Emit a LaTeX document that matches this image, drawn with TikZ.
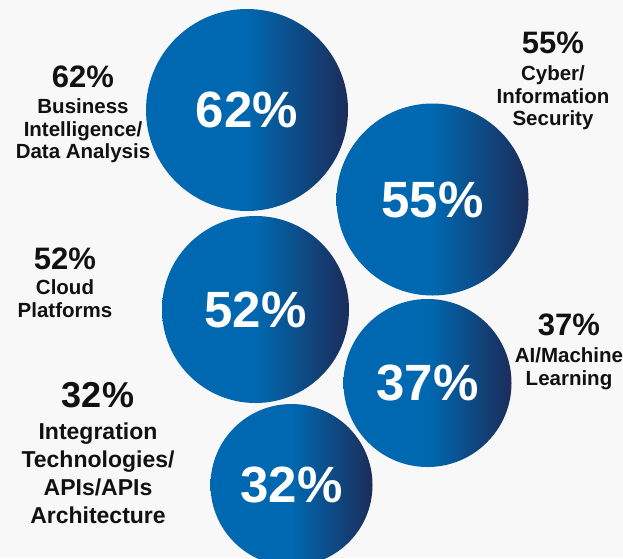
\documentclass[tikz,border=0pt]{standalone}
\usepackage{fontspec}
\setmainfont{Liberation Sans}
\usepackage{tikz}
\usetikzlibrary{positioning}

\definecolor{bggray}{HTML}{F8F8F8}
\definecolor{bubblue}{HTML}{0068B0}
\definecolor{bubnavy}{HTML}{1B2D5A}
\definecolor{txtblack}{HTML}{111111}

\begin{document}
\begin{tikzpicture}[x=1pt,y=-1pt]
\tikzstyle{bubble} = [circle, inner sep=0pt, left color=bubblue, right color=bubnavy, middle color=bubblue, text=white, font=\fontsize{51}{51}\selectfont\bfseries]
\tikzstyle{pct} = [inner sep=0pt, anchor=base, text=txtblack, font=\fontsize{31}{31}\selectfont\bfseries]
\tikzstyle{pctbig} = [pct, font=\fontsize{36}{36}\selectfont\bfseries]
\tikzstyle{desc} = [inner sep=0pt, align=center, text=txtblack, font=\fontsize{20.5}{22.5}\selectfont\bfseries]
\tikzstyle{descbig} = [desc, font=\fontsize{23}{28}\selectfont\bfseries]

\clip (0,0) rectangle (623,558);
\fill [bggray] (0,0) rectangle (623,558);

% bubbles
\node [bubble, minimum size=202pt] (c62) at (247,110) {62\%};
\node [bubble, minimum size=192pt] (c55) at (432.5,199.5) {55\%};
\node [bubble, minimum size=187pt] (c52) at (255.5,309.5) {52\%};
\node [bubble, minimum size=168pt] (c37) at (427.5,383) {37\%};
\node [bubble, minimum size=162pt] (c32) at (291.5,485) {32\%};

% labels
\node [pct] (p62) at (83,87) {62\%};
\node [desc, below = 11pt of p62] (d62) {Business\\Intelligence/\\Data Analysis};

\node [pct] (p55) at (553,53) {55\%};
\node [desc, below = 12pt of p55] (d55) {Cyber/\\Information\\Security};

\node [pct] (p52) at (65,269) {52\%};
\node [desc, below = 10pt of p52] (d52) {Cloud\\Platforms};

\node [pct] (p37) at (569,335) {37\%};
\node [desc, below = 12pt of p37] (d37) {AI/Machine\\Learning};

\node [pctbig] (p32) at (98,407) {32\%};
\node [descbig, below = 15pt of p32] (d32) {Integration\\Technologies/\\APIs/APIs\\Architecture};
\end{tikzpicture}
\end{document}
